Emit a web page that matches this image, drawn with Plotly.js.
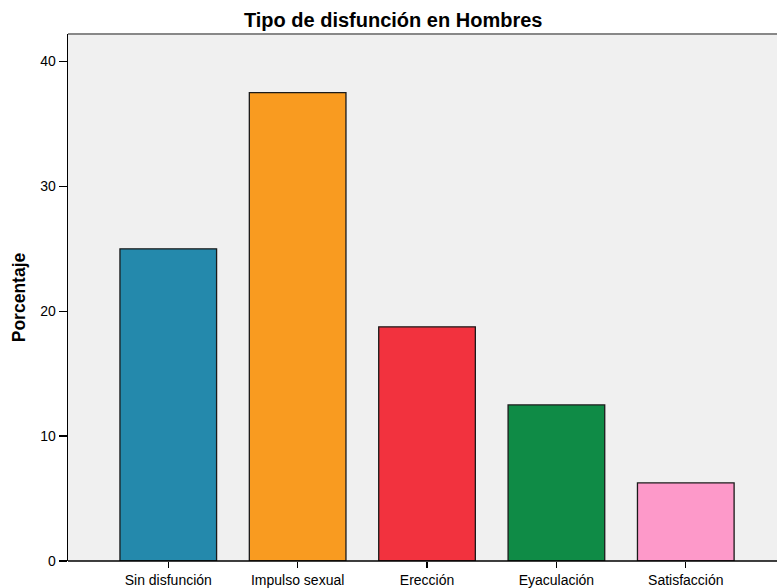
<!DOCTYPE html>
<html>
<head>
<meta charset="utf-8">
<script src="https://cdn.plot.ly/plotly-3.0.1.min.js"></script>
<style>
  html, body { margin: 0; padding: 0; background: #ffffff; }
  #chart { width: 777px; height: 588px; }
</style>
</head>
<body>
<div id="chart"></div>
<script>
// Porcentaje de hombres por tipo de disfunción
var categories = ["Sin disfunción", "Impulso sexual", "Erección", "Eyaculación", "Satisfacción"];
var percentages = [25, 37.5, 18.75, 12.5, 6.25];
var barColors = ["#2489ac", "#f99b20", "#f2323e", "#0f8b46", "#fd99c9"];
var yTicks = [0, 10, 20, 30, 40];

var trace = {
  type: "bar",
  x: categories,
  y: percentages,
  marker: {
    color: barColors,
    line: { color: "#1a1a1a", width: 1.3 }
  },
  hoverinfo: "x+y"
};

var layout = {
  width: 777,
  height: 588,
  margin: { l: 67.5, r: 0, t: 33.5, b: 27, pad: 0 },
  paper_bgcolor: "#ffffff",
  plot_bgcolor: "#f0f0f0",
  bargap: 0.253,
  showlegend: false,
  font: { family: "Liberation Sans, Arial, sans-serif", size: 14, color: "#000000" },
  title: {
    text: "<b>Tipo de disfunción en Hombres</b>",
    font: { family: "Liberation Sans, Arial, sans-serif", size: 20, color: "#000000" },
    x: 0.506,
    xanchor: "center",
    y: 0.966,
    yanchor: "middle"
  },
  xaxis: {
    type: "category",
    range: [-0.775, 4.705],
    showgrid: false,
    zeroline: false,
    showline: false,
    ticks: "outside",
    ticklen: 6,
    tickwidth: 1.3,
    tickcolor: "#000000",
    tickfont: { size: 14, color: "#000000" },
    fixedrange: true
  },
  yaxis: {
    range: [0, 42.2],
    tickvals: yTicks,
    ticktext: yTicks.map(String),
    showgrid: false,
    zeroline: false,
    showline: true,
    linecolor: "#000000",
    linewidth: 1.3,
    ticks: "outside",
    ticklen: 8,
    tickwidth: 1.3,
    tickcolor: "#000000",
    tickfont: { size: 14, color: "#000000" },
    title: {
      text: "<b>Porcentaje</b>",
      font: { size: 17.5, color: "#000000" },
      standoff: 10
    },
    fixedrange: true
  },
  shapes: [
    // baseline along the bottom of the plot area
    { type: "line", xref: "paper", yref: "paper", x0: 0, x1: 1, y0: 0, y1: 0,
      line: { color: "#000000", width: 1.3 } },
    // grey frame along the top of the plot area
    { type: "line", xref: "paper", yref: "paper", x0: 0, x1: 1, y0: 1, y1: 1,
      line: { color: "#888888", width: 2 } }
  ]
};

Plotly.newPlot("chart", [trace], layout, { displayModeBar: false, staticPlot: true });
</script>
</body>
</html>
